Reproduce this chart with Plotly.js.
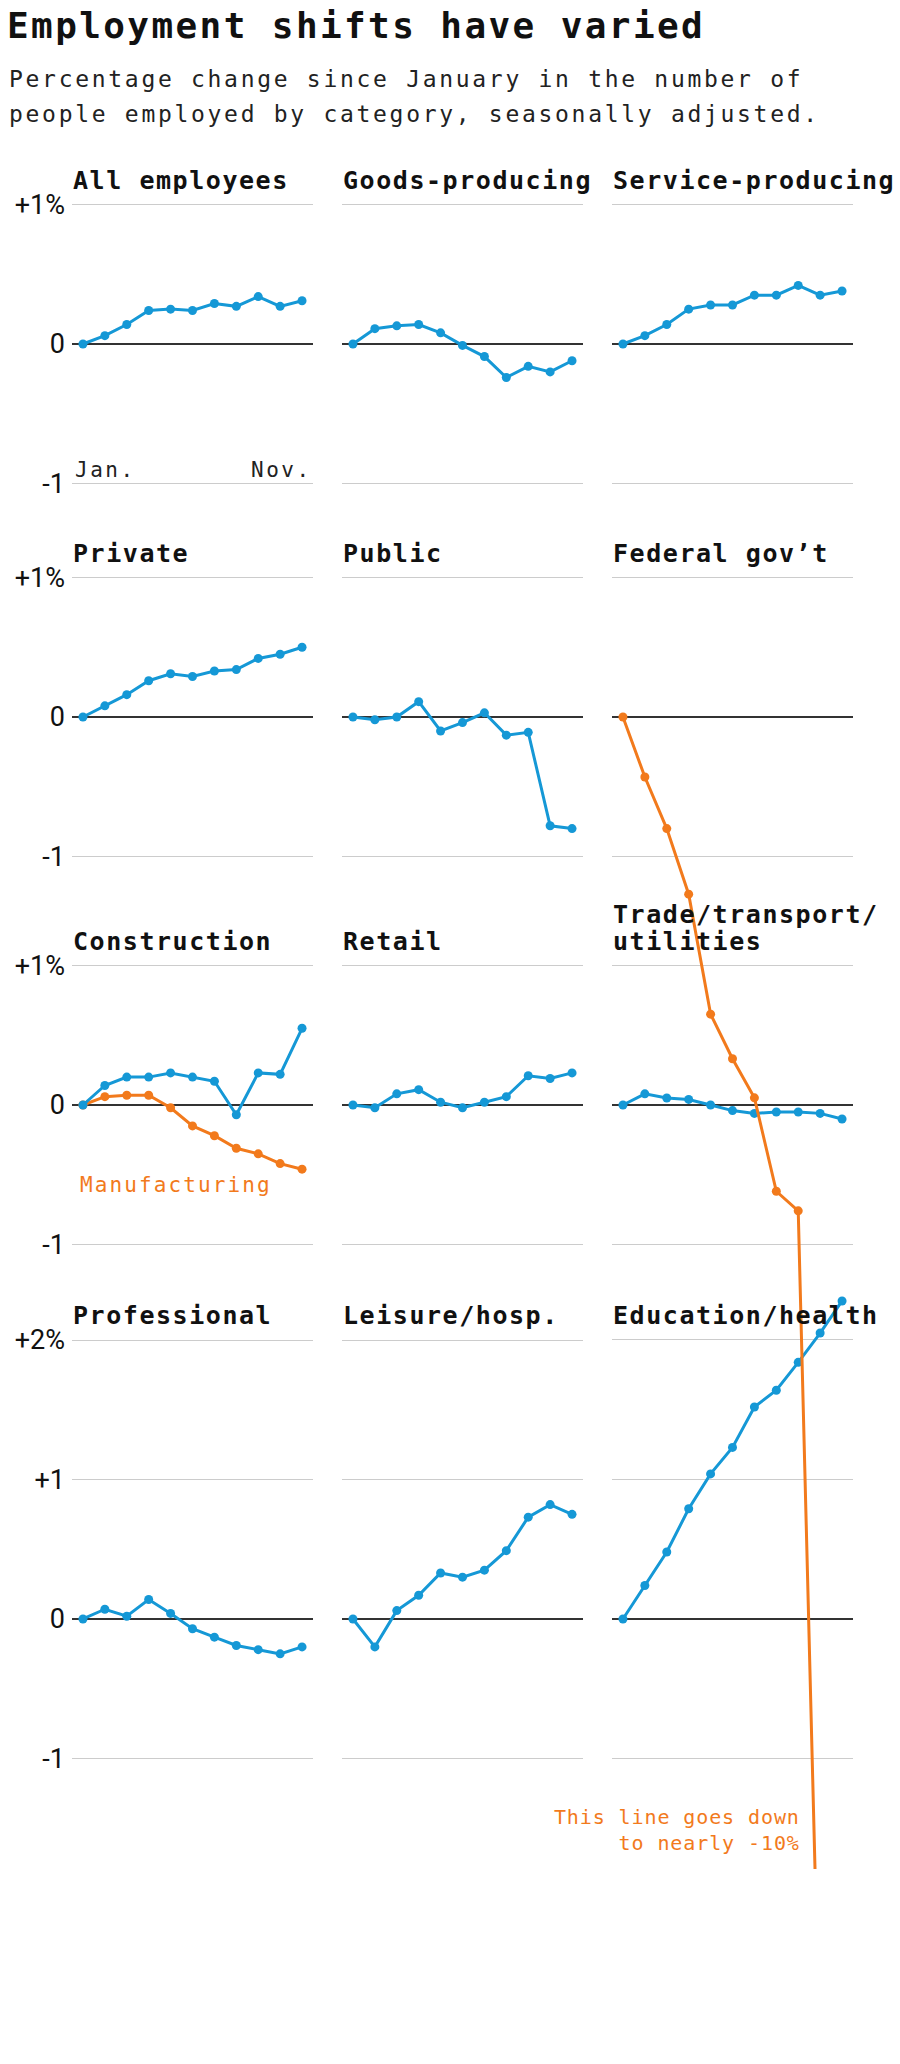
<!DOCTYPE html>
<html>
<head>
<meta charset="utf-8">
<script src="https://cdn.plot.ly/plotly-3.0.1.min.js"></script>
<style>
  html, body { margin: 0; padding: 0; background: #fff; }
  #chart { width: 900px; height: 2064px; }
</style>
</head>
<body>
<div id="chart"></div>
<script>
// ---------- DATA ----------
const months = ['Jan','Feb','Mar','Apr','May','Jun','Jul','Aug','Sep','Oct','Nov'];

const allEmployees     = [0, 0.06, 0.14, 0.24, 0.25, 0.24, 0.29, 0.27, 0.34, 0.27, 0.31];
const goodsProducing   = [0, 0.11, 0.13, 0.14, 0.08, -0.01, -0.09, -0.24, -0.16, -0.20, -0.12];
const serviceProducing = [0, 0.06, 0.14, 0.25, 0.28, 0.28, 0.35, 0.35, 0.42, 0.35, 0.38];
const privateSector    = [0, 0.08, 0.16, 0.26, 0.31, 0.29, 0.33, 0.34, 0.42, 0.45, 0.50];
const publicSector     = [0, -0.02, 0, 0.11, -0.10, -0.04, 0.03, -0.13, -0.11, -0.78, -0.80];
const federalGov       = [0, -0.43, -0.80, -1.27, -2.13, -2.45, -2.73, -3.40, -3.54, -9.7];
const construction     = [0, 0.14, 0.20, 0.20, 0.23, 0.20, 0.17, -0.07, 0.23, 0.22, 0.55];
const manufacturing    = [0, 0.06, 0.07, 0.07, -0.02, -0.15, -0.22, -0.31, -0.35, -0.42, -0.46];
const retail           = [0, -0.02, 0.08, 0.11, 0.02, -0.02, 0.02, 0.06, 0.21, 0.19, 0.23];
const tradeTransport   = [0, 0.08, 0.05, 0.04, 0, -0.04, -0.06, -0.05, -0.05, -0.06, -0.10];
const professional     = [0, 0.07, 0.02, 0.14, 0.04, -0.07, -0.13, -0.19, -0.22, -0.25, -0.20];
const leisureHosp      = [0, -0.20, 0.06, 0.17, 0.33, 0.30, 0.35, 0.49, 0.73, 0.82, 0.75];
const educationHealth  = [0, 0.24, 0.48, 0.79, 1.04, 1.23, 1.52, 1.64, 1.84, 2.05, 2.28];

const tickVals3  = [-1, 0, 1];
const tickText3  = ['-1', '0', '+1%'];
const tickVals4  = [-1, 0, 1, 2];
const tickText4  = ['-1', '0', '+1', '+2%'];

// ---------- STYLE / LAYOUT ----------
const BLUE = '#1598d6';
const ORANGE = '#f27a1c';
const W = 900, H = 2064, U = 139.5;
const rowZero = [344, 717, 1105, 1619];
const colX = [[72, 313], [342, 583], [612, 853]];
const MONO = '"DejaVu Sans Mono", monospace';

// federal gov't panel listed last so it is drawn on top of the panels it runs through
const panels = [
  {title: 'All employees', row: 0, col: 0, series: [{y: allEmployees, c: BLUE}]},
  {title: 'Goods-producing', row: 0, col: 1, series: [{y: goodsProducing, c: BLUE}]},
  {title: 'Service-producing', row: 0, col: 2, series: [{y: serviceProducing, c: BLUE}]},
  {title: 'Private', row: 1, col: 0, series: [{y: privateSector, c: BLUE}]},
  {title: 'Public', row: 1, col: 1, series: [{y: publicSector, c: BLUE}]},
  {title: 'Construction', row: 2, col: 0, series: [{y: manufacturing, c: ORANGE}, {y: construction, c: BLUE}]},
  {title: 'Retail', row: 2, col: 1, series: [{y: retail, c: BLUE}]},
  {title: 'Trade/transport/<br>utilities', row: 2, col: 2, series: [{y: tradeTransport, c: BLUE}], twoLine: true},
  {title: 'Professional', row: 3, col: 0, series: [{y: professional, c: BLUE}]},
  {title: 'Leisure/hosp.', row: 3, col: 1, series: [{y: leisureHosp, c: BLUE}]},
  {title: 'Education/health', row: 3, col: 2, series: [{y: educationHealth, c: BLUE}]},
  {title: 'Federal gov\u2019t', row: 1, col: 2, series: [{y: federalGov, c: ORANGE}], clipBottom: 1869}
];

const data = [];
const layout = {
  width: W, height: H,
  margin: {l: 0, r: 0, t: 0, b: 0, pad: 0},
  paper_bgcolor: '#fff',
  plot_bgcolor: 'rgba(0,0,0,0)',
  showlegend: false,
  title: {
    text: 'Employment shifts have varied',
    x: 7 / W, xanchor: 'left',
    y: 1 - 25 / H, yanchor: 'middle',
    font: {family: MONO, size: 36, weight: 700, color: '#111'}
  },
  annotations: []
};

const ann = layout.annotations;
const spacing = {};
let twoLineIndex = -1;
// subtitle lines
spacing[ann.length] = 2.7;
ann.push({text: 'Percentage change since January in the number of', xref: 'paper', yref: 'paper',
  x: 7 / W, y: 1 - 79 / H, xanchor: 'left', yanchor: 'middle', showarrow: false, align: 'left',
  font: {family: MONO, size: 23, color: '#222'}});
spacing[ann.length] = 2.7;
ann.push({text: 'people employed by category, seasonally adjusted.', xref: 'paper', yref: 'paper',
  x: 7 / W, y: 1 - 114 / H, xanchor: 'left', yanchor: 'middle', showarrow: false, align: 'left',
  font: {family: MONO, size: 23, color: '#222'}});

panels.forEach((p, i) => {
  const n = i + 1;
  const xa = n === 1 ? 'x' : 'x' + n;
  const ya = n === 1 ? 'y' : 'y' + n;
  const xKey = n === 1 ? 'xaxis' : 'xaxis' + n;
  const yKey = n === 1 ? 'yaxis' : 'yaxis' + n;
  const isLast = p.row === 3;
  const tv = isLast ? tickVals4 : tickVals3;
  const tt = isLast ? tickText4 : tickText3;
  const gridTop = tv[tv.length - 1];
  const allVals = [].concat(...p.series.map(s => s.y));
  const zero = rowZero[p.row];
  let hi = Math.max(gridTop, ...allVals) + 0.15;
  let lo = Math.min(-1, ...allVals) - 0.15;
  if (p.clipBottom) lo = -(p.clipBottom - zero) / U;
  const topPx = zero - hi * U, botPx = zero - lo * U;

  layout[xKey] = {
    type: 'category', range: [-0.5, months.length - 0.5],
    domain: [colX[p.col][0] / W, colX[p.col][1] / W],
    anchor: ya, showgrid: false, zeroline: false, showline: false,
    showticklabels: false, ticks: '', fixedrange: true
  };
  layout[yKey] = {
    range: [lo, hi],
    domain: [1 - botPx / H, 1 - topPx / H],
    anchor: xa,
    tickmode: 'array', tickvals: tv, ticktext: tt,
    showticklabels: p.col === 0,
    ticks: '', ticklabelstandoff: 6,
    tickfont: {family: 'Roboto, sans-serif', size: 27, color: '#111'},
    showgrid: true, gridcolor: '#cccccc', gridwidth: 1,
    zeroline: true, zerolinecolor: '#333', zerolinewidth: 1.6,
    showline: false, fixedrange: true
  };

  p.series.forEach(s => {
    data.push({
      type: 'scatter', mode: 'lines+markers',
      x: months.slice(0, s.y.length), y: s.y,
      xaxis: xa, yaxis: ya,
      line: {color: s.c, width: 3},
      marker: {color: s.c, size: 9},
      hoverinfo: 'skip'
    });
  });

  const gridTopPx = zero - gridTop * U;
  if (p.twoLine) twoLineIndex = ann.length;
  spacing[ann.length] = 1.55;
  ann.push({text: p.title, xref: 'paper', yref: 'paper',
    x: (colX[p.col][0] - 1) / W, y: 1 - (gridTopPx - 8) / H,
    xanchor: 'left', yanchor: 'bottom', showarrow: false, align: 'left',
    font: {family: MONO, size: 25, weight: 700, color: '#111'}});
});

// month labels in first panel
spacing[ann.length] = 2.5;
ann.push({text: 'Jan.', xref: 'paper', yref: 'paper', x: 73 / W, y: 1 - 470 / H,
  xanchor: 'left', yanchor: 'middle', showarrow: false, align: 'left',
  font: {family: MONO, size: 21, color: '#222'}});
spacing[ann.length] = 2.5;
ann.push({text: 'Nov.', xref: 'paper', yref: 'paper', x: 314 / W, y: 1 - 470 / H,
  xanchor: 'right', yanchor: 'middle', showarrow: false, align: 'right',
  font: {family: MONO, size: 21, color: '#222'}});
spacing[ann.length] = 2.1;
ann.push({text: 'Manufacturing', xref: 'paper', yref: 'paper', x: 78 / W, y: 1 - 1185 / H,
  xanchor: 'left', yanchor: 'middle', showarrow: false, align: 'left',
  font: {family: MONO, size: 21, color: ORANGE}});
spacing[ann.length] = 0.9;
ann.push({text: 'This line goes down<br>to nearly -10%', xref: 'paper', yref: 'paper', x: 802 / W, y: 1 - 1830 / H,
  xanchor: 'right', yanchor: 'middle', showarrow: false, align: 'right',
  font: {family: MONO, size: 20, color: ORANGE}});

// letter spacing to mimic the wide monospace face
let css = '.gtitle { letter-spacing: 2.4px; }\n';
Object.keys(spacing).forEach(k => {
  css += '.annotation[data-index="' + k + '"] text { letter-spacing: ' + spacing[k] + 'px; }\n';
});
const st = document.createElement('style');
st.textContent = css;
document.head.appendChild(st);

Plotly.newPlot('chart', data, layout, {staticPlot: true, displayModeBar: false}).then(gd => {
  // tighten the line spacing of the two-line panel title, keeping its lower line in place
  if (twoLineIndex < 0) return;
  const txt = gd.querySelector('.annotation[data-index="' + twoLineIndex + '"] text.annotation-text');
  if (!txt) return;
  const lines = txt.querySelectorAll('tspan.line');
  if (lines.length < 2) return;
  const fs = 25, newGap = 26.5;
  const shift = 1.3 * fs - newGap;
  lines[1].setAttribute('dy', (newGap / fs).toFixed(3) + 'em');
  txt.setAttribute('transform', 'translate(0,' + shift.toFixed(1) + ')');
});
</script>
</body>
</html>
